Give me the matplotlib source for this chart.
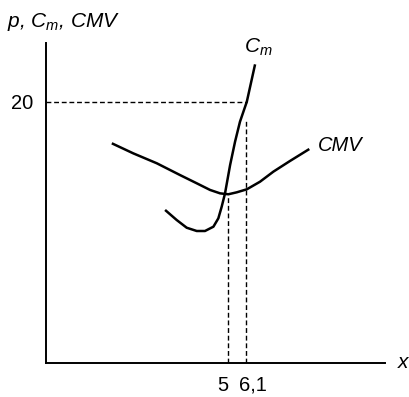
import matplotlib
matplotlib.use("Agg")
import matplotlib.pyplot as plt
from matplotlib.transforms import ScaledTranslation

plt.rcParams['font.family'] = ['Liberation Sans', 'DejaVu Sans']
plt.rcParams['mathtext.fontset'] = 'custom'
plt.rcParams['mathtext.rm'] = 'Liberation Sans'
plt.rcParams['mathtext.it'] = 'Liberation Sans:italic'

# Data (schematic)
cmv_x = [-2.31, -0.96, 0.52, 1.98, 3.03, 3.87, 4.50, 5.02, 5.55, 6.18, 7.01, 7.85, 8.90, 10.11]
cmv_y = [16.81, 16.04, 15.28, 14.38, 13.75, 13.24, 12.98, 12.91, 13.06, 13.29, 13.87, 14.64, 15.46, 16.37]

cm_x = [1.04, 1.77, 2.40, 3.03, 3.55, 4.08, 4.39, 4.60, 4.81, 5.13, 5.44, 5.75, 6.18, 6.70]
cm_y = [11.71, 10.94, 10.35, 10.10, 10.10, 10.43, 11.07, 11.96, 12.98, 15.15, 16.93, 18.46, 19.99, 22.85]

x_ticks = [5, 6.1]
x_tick_labels = ["5", "6,1"]
y_ticks = [20]
y_tick_labels = ["20"]

p_level = 20
x_min_cmv = 5
x_opt = 6.1
cmv_at_min = 12.85
cm_at_xopt = 18.6
x_at_p = 6.18

fig = plt.figure(figsize=(4.10, 3.97), dpi=100)
ax = fig.add_axes([0.111, 0.0856, 0.828, 0.806])
ax.set_xlim(-6.48, 14.87)
ax.set_ylim(0, 24.48)

lw_curve = 1.8
ax.plot(cmv_x, cmv_y, color='black', lw=lw_curve, solid_capstyle='butt', solid_joinstyle='round')
ax.plot(cm_x, cm_y, color='black', lw=lw_curve, solid_capstyle='butt', solid_joinstyle='round')

dash = (0, (3.5, 2))
ax.plot([-6.48, x_at_p], [p_level, p_level], color='black', lw=1.0, ls=dash)
ax.plot([x_min_cmv, x_min_cmv], [0, cmv_at_min], color='black', lw=1.0, ls=dash)
ax.plot([x_opt, x_opt], [0, cm_at_xopt], color='black', lw=1.0, ls=dash)

for s in ['top', 'right']:
    ax.spines[s].set_visible(False)
for s in ['left', 'bottom']:
    ax.spines[s].set_linewidth(1.4)

ax.set_xticks(x_ticks)
ax.set_xticklabels(x_tick_labels, fontsize=14.5)
ax.set_yticks(y_ticks)
ax.set_yticklabels(y_tick_labels, fontsize=14.5)
ax.tick_params(axis='both', length=0)
ax.tick_params(axis='x', pad=9)
ax.tick_params(axis='y', pad=9)

offsets = [-5.5, 7.0]
for lab, dx in zip(ax.get_xticklabels(), offsets):
    lab.set_transform(lab.get_transform() + ScaledTranslation(dx / 100, 0, fig.dpi_scale_trans))

ax.text(6.0, 23.72, r'$C_m$', fontsize=15, ha='left', va='baseline')
ax.text(10.66, 16.22, 'CMV', fontsize=14.5, style='italic', ha='left', va='baseline')
ax.text(15.69, -0.38, 'x', fontsize=15, style='italic', ha='left', va='baseline', clip_on=False)
fig.text(7 / 410, 1 - 27 / 397, r'p, $C_m$, CMV', fontsize=15, style='italic',
         ha='left', va='baseline')

fig.savefig('out.png', dpi=100)
